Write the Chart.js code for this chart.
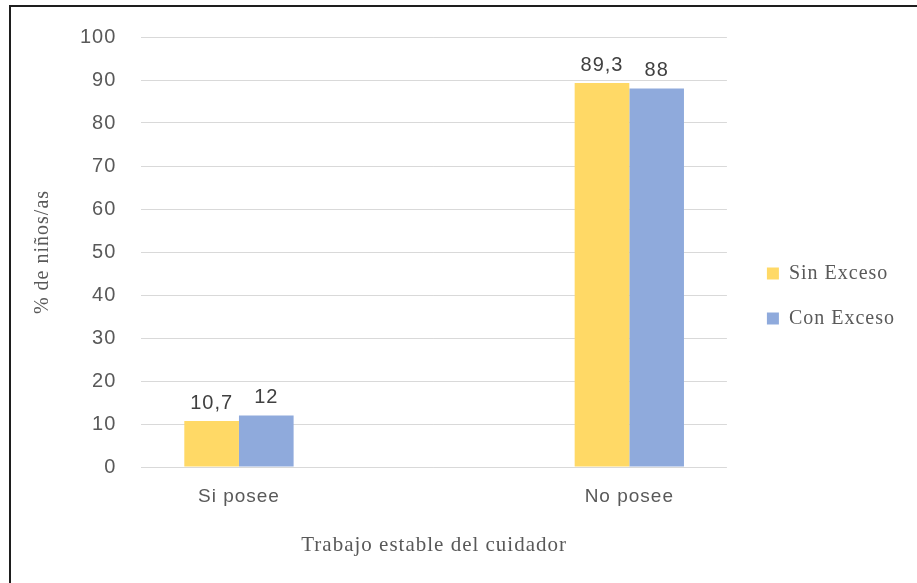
<!DOCTYPE html>
<html>
<head>
<meta charset="utf-8">
<script src="https://cdn.jsdelivr.net/npm/chart.js@4/dist/chart.umd.min.js"></script>
<style>
    html, body { margin: 0; padding: 0; background: #fff; }
    #wrap { position: relative; width: 917px; height: 583px; overflow: hidden; }
    #frame { position: absolute; left: 9px; top: 5px; right: -5px; bottom: -5px;
             border-left: 2px solid #1e1e1e; border-top: 2px solid #1e1e1e; }
    canvas { position: absolute; left: 0; top: 0; }
</style>
</head>
<body>
<div id="wrap">
    <canvas id="chart" width="917" height="583"></canvas>
    <div id="frame"></div>
</div>
<script>
// datos (la categoría del medio queda vacía, como en el original)
const categories = ["Si posee", "", "No posee"];
const sinExceso = [10.7, null, 89.3];
const conExceso = [12, null, 88];
const seriesNames = ["Sin Exceso", "Con Exceso"];
const yMin = 0;
const yMax = 100;
const yStep = 10;

const textColor = "#595959";
const serif = "'Liberation Serif', 'DejaVu Serif', serif";
const sans = "'Liberation Sans', Arial, sans-serif";

// espaciado de letras parecido al de la imagen
const spacingPlugin = {
    id: "spacing",
    beforeLayout(chart) { chart.ctx.letterSpacing = "1px"; },
    beforeDraw(chart) { chart.ctx.letterSpacing = "1px"; }
};

// separa un poco la leyenda del área del gráfico
const legendShift = {
    id: "legendShift",
    afterLayout(chart) {
        chart.legend.left += 15;
        chart.legend.right += 15;
    }
};

// etiquetas de valor encima de cada barra
const valueLabels = {
    id: "valueLabels",
    afterDatasetsDraw(chart) {
        const ctx = chart.ctx;
        ctx.save();
        ctx.font = "20px " + sans;
        ctx.fillStyle = "#404040";
        ctx.textAlign = "center";
        ctx.textBaseline = "bottom";
        chart.data.datasets.forEach((ds, i) => {
            chart.getDatasetMeta(i).data.forEach((bar, j) => {
                const v = ds.data[j];
                if (v === null) return;
                ctx.fillText(String(v).replace(".", ","), bar.x, bar.y - 8);
            });
        });
        ctx.restore();
    }
};

new Chart(document.getElementById("chart").getContext("2d"), {
    type: "bar",
    data: {
        labels: categories,
        datasets: [
            { label: seriesNames[0], data: sinExceso, backgroundColor: "#FFD966" },
            { label: seriesNames[1], data: conExceso, backgroundColor: "#8FAADC" }
        ]
    },
    options: {
        responsive: false,
        animation: false,
        categoryPercentage: 0.56,
        barPercentage: 1.0,
        layout: { padding: { left: 27, top: 30, right: 27, bottom: 21 } },
        plugins: {
            legend: {
                position: "right",
                labels: {
                    font: { family: serif, size: 20 },
                    color: textColor,
                    boxWidth: 12,
                    boxHeight: 12,
                    padding: 25
                }
            },
            tooltip: { enabled: false }
        },
        scales: {
            x: {
                grid: { display: false },
                border: { display: false },
                ticks: { font: { family: sans, size: 19 }, color: textColor, padding: 10 },
                title: {
                    display: true,
                    text: "Trabajo estable del cuidador",
                    font: { family: serif, size: 21 },
                    color: textColor,
                    padding: { top: 15 }
                }
            },
            y: {
                min: yMin,
                max: yMax,
                grid: { color: "#d9d9d9", lineWidth: 1, drawTicks: false },
                border: { display: false },
                ticks: {
                    stepSize: yStep,
                    font: { family: sans, size: 20 },
                    color: textColor,
                    padding: 25
                },
                title: {
                    display: true,
                    text: "% de niños/as",
                    font: { family: serif, size: 20 },
                    color: textColor,
                    padding: { bottom: 0 }
                }
            }
        }
    },
    plugins: [spacingPlugin, legendShift, valueLabels]
});
</script>
</body>
</html>
